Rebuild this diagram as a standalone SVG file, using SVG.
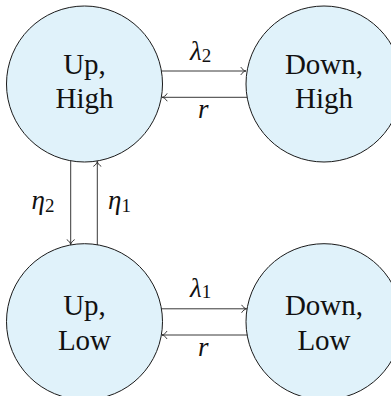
<svg xmlns="http://www.w3.org/2000/svg" width="391" height="396" viewBox="0 0 391 396">
<style>
.node circle{fill:#e0f2fa;stroke:#1a1a1a;stroke-width:1}
.node text{font-family:"Liberation Serif","Times New Roman",serif;font-size:29px;fill:#111;text-anchor:middle}
.edge line{stroke:#222;stroke-width:0.9;fill:none}
.lbl{font-family:"Liberation Serif","Times New Roman",serif;font-size:27px;font-style:italic;fill:#111}
.sub{font-style:normal;font-size:19px}
</style>
<defs>
<marker id="arr" viewBox="-6 -5 8 10" refX="0" refY="0" markerWidth="8" markerHeight="10" orient="auto" markerUnits="userSpaceOnUse">
<path d="M -4.8 -3.6 C -3.6 -1.5 -1.6 -0.4 0 0 C -1.6 0.4 -3.6 1.5 -4.8 3.6" fill="none" stroke="#222" stroke-width="0.9" stroke-linecap="round"/>
</marker>
</defs>
<g id="n-up-high" class="node">
<circle cx="84.5" cy="84" r="78"/>
<text x="84.5" y="73.5">Up,</text>
<text x="84.5" y="108.3">High</text>
</g>
<g id="n-down-high" class="node">
<circle cx="324" cy="84" r="78"/>
<text x="324" y="73.5">Down,</text>
<text x="324" y="108.3">High</text>
</g>
<g id="n-up-low" class="node">
<circle cx="84.5" cy="321.7" r="78"/>
<text x="84.5" y="315">Up,</text>
<text x="84.5" y="350">Low</text>
</g>
<g id="n-down-low" class="node">
<circle cx="324" cy="321.7" r="78"/>
<text x="324" y="315">Down,</text>
<text x="324" y="350">Low</text>
</g>
<g id="connectors" class="edge">
<line x1="161.4" y1="71" x2="245.8" y2="71" marker-end="url(#arr)"/>
<line x1="247" y1="97.3" x2="162.2" y2="97.3" marker-end="url(#arr)"/>
<line x1="161.4" y1="308.8" x2="246.6" y2="308.8" marker-end="url(#arr)"/>
<line x1="247.4" y1="335" x2="162" y2="335" marker-end="url(#arr)"/>
<line x1="70.7" y1="160.8" x2="70.7" y2="244.6" marker-end="url(#arr)"/>
<line x1="97.3" y1="245" x2="97.3" y2="161.4" marker-end="url(#arr)"/>
</g>
<g id="labels">
<text class="lbl" x="190" y="60">λ<tspan class="sub" dy="1.5">2</tspan></text>
<text class="lbl" x="198" y="118">r</text>
<text class="lbl" x="190" y="296.7">λ<tspan class="sub" dy="1.5">1</tspan></text>
<text class="lbl" x="198" y="356">r</text>
<text class="lbl" x="31.5" y="208.5">η<tspan class="sub" dy="3">2</tspan></text>
<text class="lbl" x="108" y="208.5">η<tspan class="sub" dy="3">1</tspan></text>
</g>
</svg>
